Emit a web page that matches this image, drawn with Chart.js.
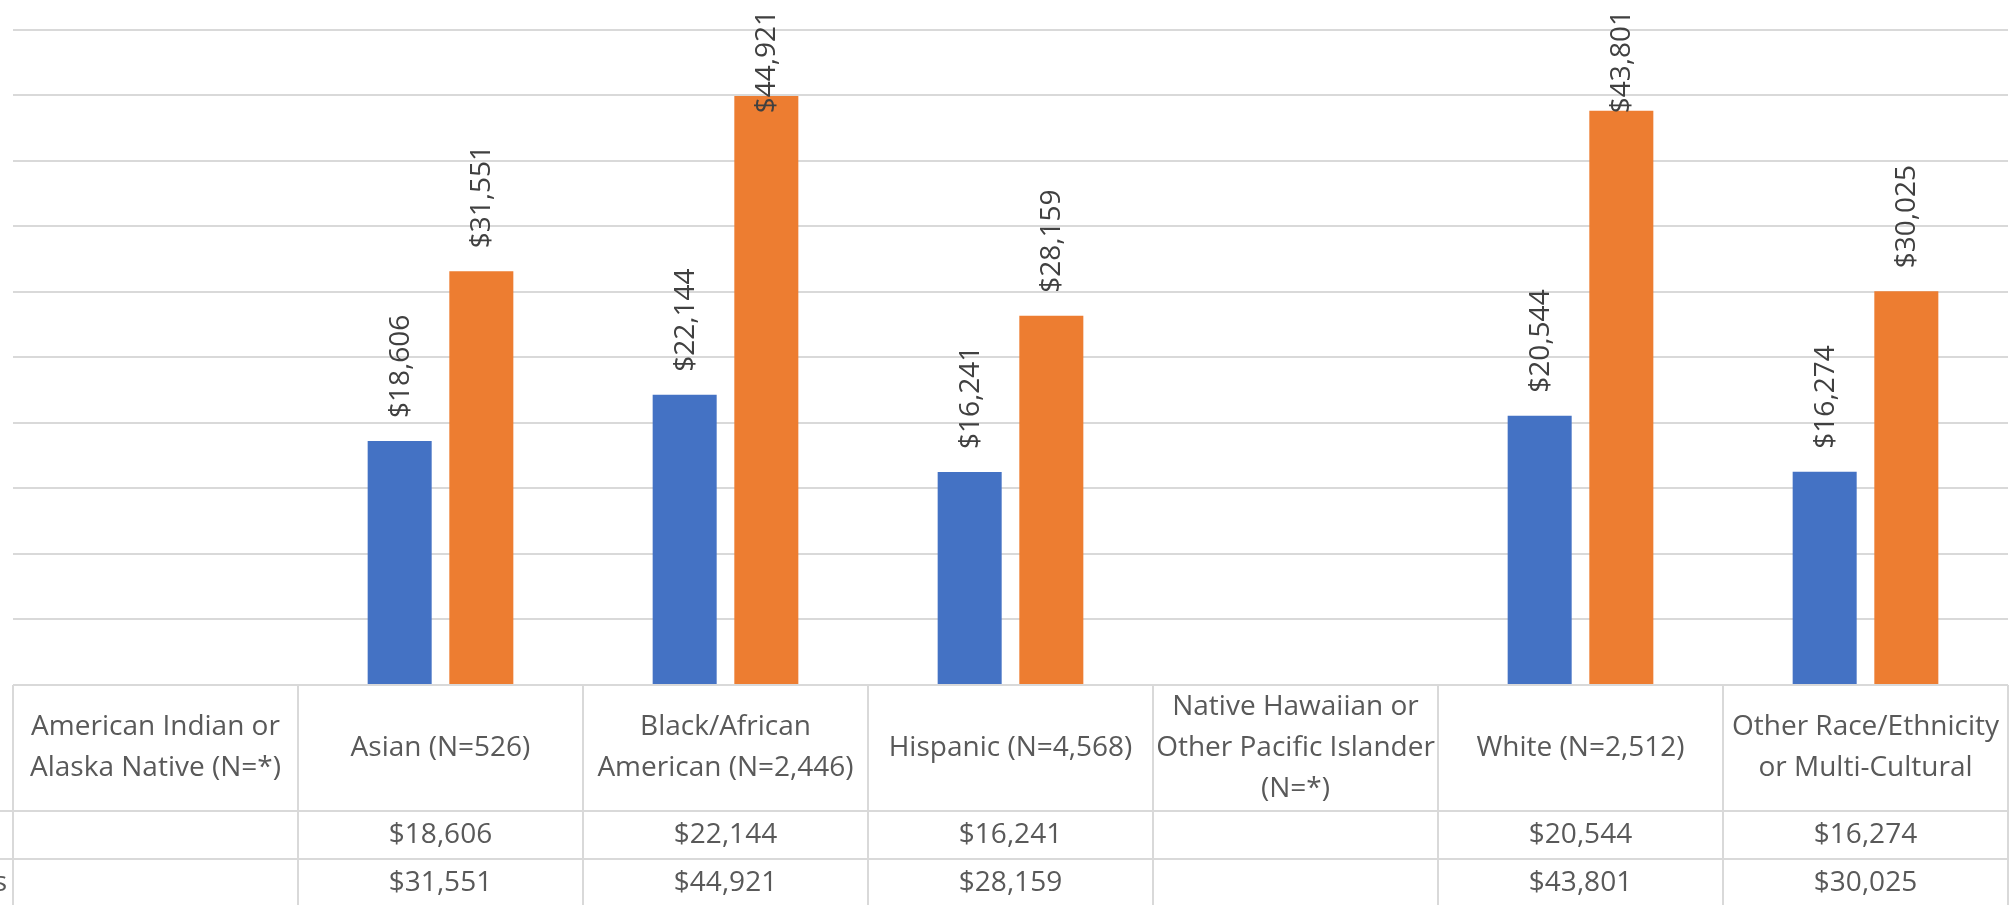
<!DOCTYPE html>
<html>
<head>
<meta charset="utf-8">
<script src="https://cdn.jsdelivr.net/npm/chart.js@4/dist/chart.umd.min.js"></script>
<style>
  html, body { margin: 0; padding: 0; background: #ffffff; }
  #wrap { width: 2013px; height: 905px; position: relative; overflow: hidden; }
</style>
</head>
<body>
<div id="wrap"><canvas id="c" width="2013" height="905"></canvas></div>
<script>
// ---- data ----
const categories = [
  ["American Indian or", "Alaska Native (N=*)"],
  ["Asian (N=526)"],
  ["Black/African", "American (N=2,446)"],
  ["Hispanic (N=4,568)"],
  ["Native Hawaiian or", "Other Pacific Islander", "(N=*)"],
  ["White (N=2,512)"],
  ["Other Race/Ethnicity", "or Multi-Cultural"]
];
const seriesNames = ["Initial Earnings", "Subsequent Earnings"];
const blueValues   = [null, 18606, 22144, 16241, null, 20544, 16274];
const orangeValues = [null, 31551, 44921, 28159, null, 43801, 30025];
const yMin = 0, yMax = 50000, yStep = 5000;

const BLUE = "#4472C4", ORANGE = "#ED7D31";
const GRID = "#d9d9d9";
const LABEL_COLOR = "#404040";
const TABLE_COLOR = "#595959";
const FONT = "'Open Sans', 'Liberation Sans', sans-serif";

function fmt(v) { return "$" + v.toLocaleString("en-US"); }

const tablePlugin = {
  id: "dataTable",
  afterDraw(chart) {
    const ctx = chart.ctx;
    const ca = chart.chartArea;
    const n = categories.length;
    const colW = (ca.right - ca.left) / n;
    const top = ca.bottom;
    const hdrBottom = top + 126;
    const row2Bottom = hdrBottom + 48;
    const row3Bottom = row2Bottom + 48;
    ctx.save();
    ctx.strokeStyle = GRID;
    ctx.lineWidth = 2;
    // horizontal lines
    ctx.beginPath();
    ctx.moveTo(ca.left, top); ctx.lineTo(ca.right, top);
    ctx.moveTo(0, hdrBottom); ctx.lineTo(ca.right, hdrBottom);
    ctx.moveTo(0, row2Bottom); ctx.lineTo(ca.right, row2Bottom);
    ctx.moveTo(0, row3Bottom); ctx.lineTo(ca.right, row3Bottom);
    // vertical lines
    for (let i = 0; i <= n; i++) {
      const x = ca.left + i * colW;
      ctx.moveTo(x, top); ctx.lineTo(x, row3Bottom);
    }
    ctx.stroke();

    // header text
    ctx.fillStyle = TABLE_COLOR;
    ctx.font = "28px " + FONT;
    ctx.textAlign = "center";
    ctx.textBaseline = "middle";
    const lh = 41;
    const hdrMid = (top + hdrBottom) / 2;
    categories.forEach((lines, i) => {
      const cx = ca.left + (i + 0.5) * colW;
      const y0 = hdrMid - (lines.length - 1) * lh / 2;
      lines.forEach((t, k) => ctx.fillText(t, cx, y0 + k * lh));
    });
    // value rows
    const rows = [blueValues, orangeValues];
    const mids = [(hdrBottom + row2Bottom) / 2, (row2Bottom + row3Bottom) / 2];
    rows.forEach((vals, r) => {
      vals.forEach((v, i) => {
        if (v === null) return;
        const cx = ca.left + (i + 0.5) * colW;
        ctx.fillText(fmt(v), cx, mids[r]);
      });
    });
    // row header labels (mostly cut off on the left)
    ctx.textAlign = "left";
    const startX = 7 - ctx.measureText(seriesNames[1]).width;
    seriesNames.forEach((s, r) => ctx.fillText(s, startX, mids[r]));
    ctx.restore();
  }
};

const labelPlugin = {
  id: "barLabels",
  afterDatasetsDraw(chart) {
    const ctx = chart.ctx;
    ctx.save();
    ctx.font = "28px " + FONT;
    ctx.fillStyle = LABEL_COLOR;
    ctx.textBaseline = "middle";
    ctx.textAlign = "left";
    chart.data.datasets.forEach((ds, di) => {
      const meta = chart.getDatasetMeta(di);
      meta.data.forEach((bar, i) => {
        const v = ds.data[i];
        if (v === null || v === undefined) return;
        const txt = fmt(v);
        const w = ctx.measureText(txt).width;
        let start = bar.y - 23;
        if (start - w < 10) start = 10 + w;
        ctx.save();
        ctx.translate(bar.x, start);
        ctx.rotate(-Math.PI / 2);
        ctx.fillText(txt, 0, 1);
        ctx.restore();
      });
    });
    ctx.restore();
  }
};

new Chart(document.getElementById("c"), {
  type: "bar",
  data: {
    labels: categories,
    datasets: [
      { label: seriesNames[0], data: blueValues, backgroundColor: BLUE,
        categoryPercentage: 0.573, barPercentage: 0.784 },
      { label: seriesNames[1], data: orangeValues, backgroundColor: ORANGE,
        categoryPercentage: 0.573, barPercentage: 0.784 }
    ]
  },
  options: {
    responsive: false,
    animation: false,
    devicePixelRatio: 1,
    layout: { padding: { left: 13, right: 5, top: 29.5, bottom: 220 } },
    plugins: { legend: { display: false }, tooltip: { enabled: false } },
    scales: {
      x: { display: false },
      y: {
        min: yMin, max: yMax,
        ticks: { display: false, stepSize: yStep },
        grid: { color: GRID, lineWidth: 2, drawTicks: false },
        border: { display: false }
      }
    }
  },
  plugins: [labelPlugin, tablePlugin]
});
</script>
</body>
</html>
